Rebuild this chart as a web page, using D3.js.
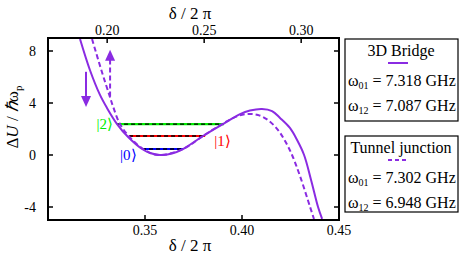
<!DOCTYPE html>
<meta charset="utf-8">
<style>
body{ margin:0; background:#fff; }
text{ font-family:"Liberation Serif","Times New Roman",serif; }
.title{ font-size:17px; text-anchor:middle; }
.leg{ font-size:16px; }
.frame{ fill:none; stroke:#000; stroke-width:2px; }
.tk{ stroke:#000; stroke-width:1.5px; }
</style>
<body>
<script src="https://d3js.org/d3.v7.min.js"></script>
<script>

// potential curves (delta/2pi, dU/hbar w_p)
var bridgeX = [0.3165,0.3216,0.3268,0.3304,0.3356,0.3413,0.3485,0.3526,0.3577,0.3639,0.3696,0.3799,0.3902,0.3990,0.4041,0.4103,0.4155,0.4196,0.4247,0.4284,0.4320,0.4356,0.4392,0.4413];
var bridgeU = [8.92,6.54,4.62,3.62,2.38,1.38,0.46,0.15,0.00,0.12,0.46,1.46,2.38,3.15,3.42,3.54,3.38,2.85,2.08,1.15,0.00,-1.92,-4.00,-4.92];
var tunnelX = [0.3227,0.3278,0.3316,0.3336,0.3371,0.3420,0.3490,0.3567,0.3696,0.3799,0.3897,0.3979,0.4031,0.4082,0.4134,0.4186,0.4222,0.4258,0.4299,0.4351,0.4371];
var tunnelU = [8.92,6.38,4.62,3.70,2.38,1.40,0.46,0.00,0.46,1.46,2.38,3.00,3.15,3.08,2.69,1.92,1.08,0.00,-1.62,-4.00,-4.92];

// energy levels
var levelName = ["|0\u27E9","|1\u27E9","|2\u27E9"];
var levelColor = ["#0000ff","#ff0000","#00ee00"];
var levelE = [0.46,1.46,2.38];
var levelFrom = [0.3485,0.3418,0.3356];
var levelTo = [0.3696,0.3810,0.3907];

var bottomTicks = [0.35,0.40,0.45];
var topTicks = [0.20,0.25,0.30];
var yTicks = [-4,0,4,8];

var legBridge = ["3D Bridge","01"," = 7.318 GHz","12"," = 7.087 GHz"];
var legTunnel = ["Tunnel junction","01"," = 7.302 GHz","12"," = 6.948 GHz"];

var purple = "#8a2be2";

var svg = d3.select("body").append("svg").attr("width",460).attr("height",257);

var x = d3.scaleLinear().domain([0.30,0.45]).range([48,339]);
var xTop = d3.scaleLinear().domain([0.1695,0.3195]).range([48,339]);
var y = d3.scaleLinear().domain([-5,9]).range([220,38]);

svg.append("defs").append("clipPath").attr("id","clip")
  .append("rect").attr("x",48).attr("y",38).attr("width",291).attr("height",182);

var plot = svg.append("g").attr("clip-path","url(#clip)");

// levels
levelE.forEach(function(e,i){
  plot.append("line").attr("x1",x(levelFrom[i])).attr("x2",x(levelTo[i]))
    .attr("y1",y(e)).attr("y2",y(e))
    .attr("stroke",levelColor[i]).attr("stroke-width",2.2);
  plot.append("line").attr("x1",x(levelFrom[i])).attr("x2",x(levelTo[i]))
    .attr("y1",y(e)).attr("y2",y(e))
    .attr("stroke","#000").attr("stroke-width",1.3).attr("stroke-dasharray","4,3");
});

var line = d3.line().curve(d3.curveCatmullRom.alpha(0.5));
plot.append("path").attr("d",line(bridgeX.map((v,i)=>[x(v),y(bridgeU[i])])))
  .attr("fill","none").attr("stroke",purple).attr("stroke-width",2);
plot.append("path").attr("d",line(tunnelX.map((v,i)=>[x(v),y(tunnelU[i])])))
  .attr("fill","none").attr("stroke",purple).attr("stroke-width",2)
  .attr("stroke-dasharray","5,3");

// level labels
svg.append("text").attr("x",x(levelFrom[2])-4).attr("y",y(levelE[2])+5)
  .attr("text-anchor","end").style("fill",levelColor[2]).style("font-size","15px").text(levelName[2]);
svg.append("text").attr("x",x(levelTo[1])+9).attr("y",y(levelE[1])+10)
  .style("fill",levelColor[1]).style("font-size","15px").text(levelName[1]);
svg.append("text").attr("x",x(levelFrom[0])-22).attr("y",y(levelE[0])+11)
  .style("fill",levelColor[0]).style("font-size","15px").text(levelName[0]);

// arrows
function arrow(xv,y0,y1,dashed){
  var dir = y1 > y0 ? -1 : 1; // screen direction
  var px = x(xv), p0 = y(y0), p1 = y(y1);
  svg.append("line").attr("x1",px).attr("x2",px).attr("y1",p0).attr("y2",p1 - dir*9)
    .attr("stroke",purple).attr("stroke-width",2).attr("stroke-dasharray",dashed?"5,3":null);
  svg.append("path").attr("d","M"+px+","+p1+"L"+(px-5)+","+(p1-dir*11)+"L"+(px+5)+","+(p1-dir*11)+"Z")
    .attr("fill",purple);
}
arrow(0.3196,6.4,3.7,false);
arrow(0.3320,4.5,8.1,true);

// frame + ticks
svg.append("rect").attr("class","frame").attr("x",48).attr("y",38).attr("width",291).attr("height",182);
var g = svg.append("g");
bottomTicks.forEach(function(t){
  g.append("line").attr("class","tk").attr("x1",x(t)).attr("x2",x(t)).attr("y1",220).attr("y2",215);
  g.append("text").attr("x",x(t)).attr("y",235).attr("text-anchor","middle").style("font-size","14px")
    .text(d3.format(".2f")(t));
});
topTicks.forEach(function(t){
  g.append("line").attr("class","tk").attr("x1",xTop(t)).attr("x2",xTop(t)).attr("y1",38).attr("y2",43);
  g.append("text").attr("x",xTop(t)).attr("y",35).attr("text-anchor","middle").style("font-size","14px")
    .text(d3.format(".2f")(t));
});
yTicks.forEach(function(t){
  g.append("line").attr("class","tk").attr("x1",48).attr("x2",53).attr("y1",y(t)).attr("y2",y(t));
  g.append("line").attr("class","tk").attr("x1",339).attr("x2",334).attr("y1",y(t)).attr("y2",y(t));
  g.append("text").attr("x",36).attr("y",y(t)+5).attr("text-anchor","end").style("font-size","14px")
    .text(t);
});

svg.append("text").attr("class","title").attr("x",190).attr("y",19).text("\u03B4 / 2 \u03C0");
svg.append("text").attr("class","title").attr("x",190).attr("y",251).text("\u03B4 / 2 \u03C0");

var yt = svg.append("text").attr("class","title")
  .attr("transform","translate(18,117) rotate(-90)");
yt.append("tspan").text("\u0394");
yt.append("tspan").style("font-style","italic").text("U");
yt.append("tspan").text(" / ");
yt.append("tspan").style("font-style","italic").text("\u210F");
yt.append("tspan").text("\u03C9");
yt.append("tspan").attr("dy",4).style("font-size","11px").text("p");

// legend boxes
function legend(top,h,lab,dashed){
  svg.append("rect").attr("x",345).attr("y",top).attr("width",113).attr("height",h)
    .attr("fill","#fff").attr("stroke","#000").attr("stroke-width",1.2);
  svg.append("text").attr("class","leg").attr("x",401).attr("y",top+17).attr("text-anchor","middle").text(lab[0]);
  svg.append("line").attr("x1",388).attr("x2",408).attr("y1",top+24).attr("y2",top+24)
    .attr("stroke",purple).attr("stroke-width",2).attr("stroke-dasharray",dashed?"4,3":null);
  [1,3].forEach(function(k,j){
    var t = svg.append("text").attr("class","leg").attr("x",348).attr("y",top+47+j*25);
    t.append("tspan").text("\u03C9");
    t.append("tspan").attr("dy",3).style("font-size","10px").text(lab[k]);
    t.append("tspan").attr("dy",-3).text(lab[k+1]);
  });
}
legend(39,82,legBridge,false);
legend(136,76,legTunnel,true);

</script>
</body>
</html>
